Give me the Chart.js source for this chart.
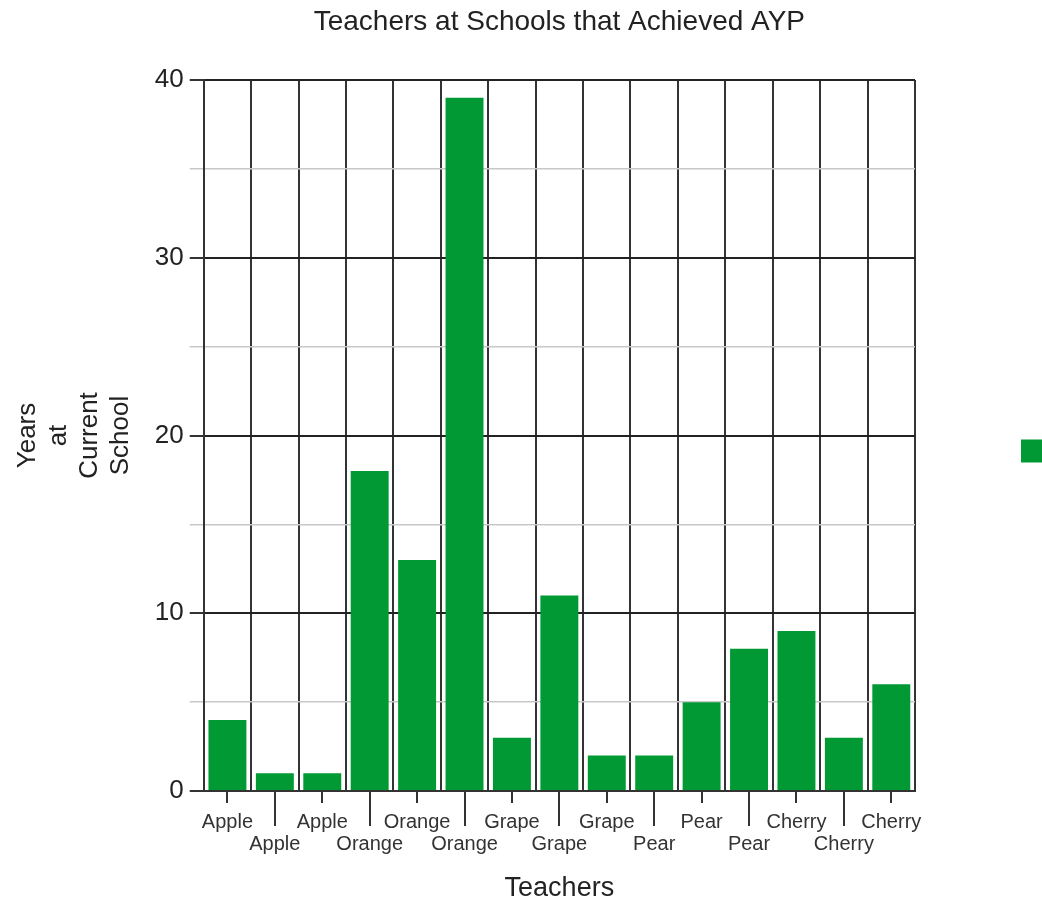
<!DOCTYPE html>
<html>
<head>
<meta charset="utf-8">
<script src="https://cdn.jsdelivr.net/npm/chart.js@4"></script>
<style>
    html, body { margin: 0; padding: 0; overflow: hidden; background: #fff; }
</style>
</head>
<body>
<canvas id="teachers" width="1060" height="899"></canvas>
<script>
const teachers = ["Apple", "Apple", "Apple", "Orange", "Orange", "Orange", "Grape", "Grape", "Grape",
    "Pear", "Pear", "Pear", "Cherry", "Cherry", "Cherry"];
const years = [4, 1, 1, 18, 13, 39, 3, 11, 2, 2, 5, 8, 9, 3, 6];
const yTicks = [0, 10, 20, 30, 40];

Chart.defaults.font.family = "'Liberation Sans', Arial, sans-serif";
Chart.defaults.color = "#222";

// labels alternate between two rows
const labels = teachers.map((t, i) => (i % 2 ? ["", t] : [t]));

// short / long tick marks at the bar centres
const centreTicks = {
    id: "centreTicks",
    afterDraw(chart) {
        const x = chart.scales.x;
        const ctx = chart.ctx;
        ctx.save();
        ctx.strokeStyle = "#333";
        ctx.lineWidth = 2;
        x.ticks.forEach((t, i) => {
            const px = Math.round(x.getPixelForTick(i));
            ctx.beginPath();
            ctx.moveTo(px, x.top);
            ctx.lineTo(px, x.top + (i % 2 ? 35 : 12));
            ctx.stroke();
        });
        ctx.restore();
    },
};

const config = {
    type: "bar",
    data: {
        labels: labels,
        datasets: [
            {
                label: "",
                data: years,
                backgroundColor: "#009933",
                barPercentage: 0.8,
                categoryPercentage: 1.0,
            },
        ],
    },
    options: {
        responsive: false,
        animation: false,
        devicePixelRatio: 1,
        layout: { padding: { left: 12, top: 0, right: 0, bottom: -3 } },
        plugins: {
            title: {
                display: true,
                text: "Teachers at Schools that Achieved AYP",
                fullSize: false,
                color: "#222",
                font: { size: 28, weight: "normal", lineHeight: 1 },
                padding: { top: 8, bottom: 44 },
            },
            legend: {
                position: "right",
                labels: {
                    boxWidth: 23,
                    boxHeight: 23,
                    padding: 106,
                    font: { size: 12 },
                },
            },
            tooltip: { enabled: false },
        },
        scales: {
            x: {
                offset: true,
                grid: {
                    offset: true,
                    color: "#333",
                    lineWidth: 2,
                    drawTicks: false,
                },
                border: { color: "#333", width: 2 },
                ticks: {
                    autoSkip: false,
                    maxRotation: 0,
                    padding: 20,
                    color: "#333",
                    font: { size: 20, lineHeight: 1.1 },
                },
                title: {
                    display: true,
                    text: "Teachers",
                    color: "#222",
                    font: { size: 27, lineHeight: 1 },
                    padding: { top: 0, bottom: 0 },
                },
            },
            y: {
                min: 0,
                max: 40,
                grid: {
                    color: (c) => (yTicks.includes(c.tick.value) ? "#222" : "#c8c8c8"),
                    lineWidth: (c) => (yTicks.includes(c.tick.value) ? 2 : 1.5),
                    tickColor: (c) => (yTicks.includes(c.tick.value) ? "#333" : "#c8c8c8"),
                    tickLength: 14,
                },
                border: { color: "#333", width: 2 },
                ticks: {
                    stepSize: 5,
                    padding: 6,
                    color: "#222",
                    font: { size: 26 },
                    callback: (v) => (yTicks.includes(v) ? v : ""),
                },
                title: {
                    display: true,
                    text: ["Years", "at", "Current", "School"],
                    color: "#222",
                    font: { size: 26, lineHeight: 1.2 },
                    padding: { top: 0, bottom: 12 },
                },
            },
        },
    },
    plugins: [centreTicks],
};

const teachersChart = new Chart(document.getElementById("teachers"), config);
</script>
</body>
</html>
